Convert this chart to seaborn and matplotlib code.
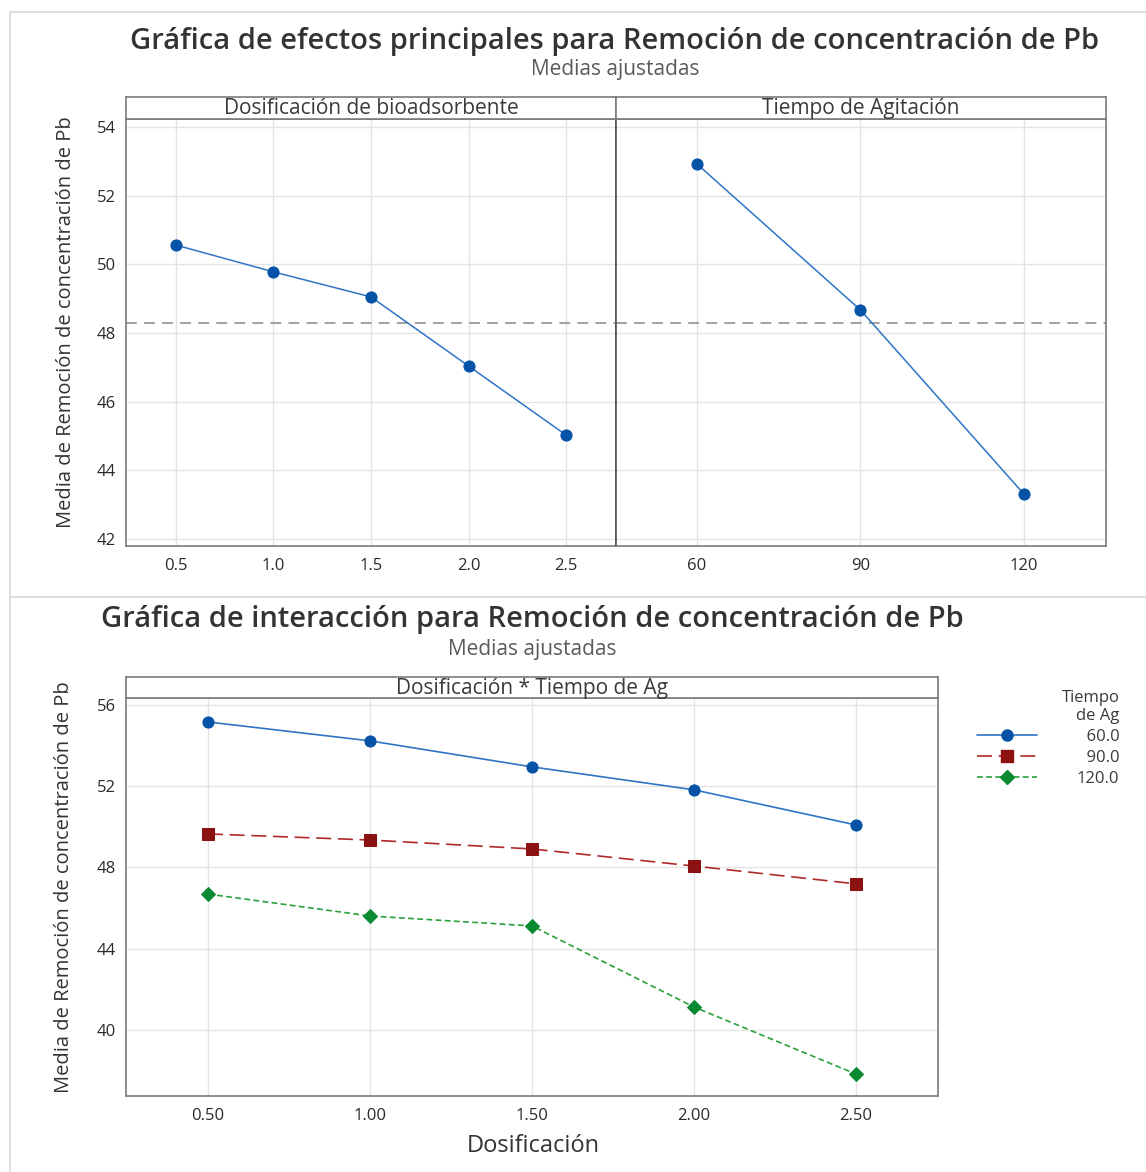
import matplotlib
matplotlib.use('Agg')
import matplotlib.pyplot as plt
import seaborn as sns
import pandas as pd
from matplotlib.lines import Line2D

# ---------------- data ----------------
dose_levels = [0.5, 1.0, 1.5, 2.0, 2.5]
dose_means = [50.56, 49.78, 49.05, 47.04, 45.03]
time_levels = [60, 90, 120]
time_means = [52.92, 48.67, 43.31]
grand_mean = 48.29

inter_dose = [0.5, 1.0, 1.5, 2.0, 2.5]
inter_60 = [55.16, 54.23, 52.95, 51.82, 50.09]
inter_90 = [49.65, 49.35, 48.91, 48.07, 47.19]
inter_120 = [46.69, 45.61, 45.12, 41.13, 37.83]
time_labels = ['\u200760.0', '\u200790.0', '120.0']

top_yticks = [42, 44, 46, 48, 50, 52, 54]
bot_yticks = [40, 44, 48, 52, 56]
dose_ticklabels = ['0.5', '1.0', '1.5', '2.0', '2.5']
time_ticklabels = ['60', '90', '120']
inter_ticklabels = ['0.50', '1.00', '1.50', '2.00', '2.50']

# ---------------- style ----------------
sns.set_theme(style='whitegrid')
plt.rcParams['font.family'] = ['Open Sans', 'DejaVu Sans']
plt.rcParams['axes.edgecolor'] = '#7a7a7a'
plt.rcParams['grid.color'] = '#e4e4e4'
plt.rcParams['grid.linewidth'] = 1.0

W, H = 1146, 1172
fig = plt.figure(figsize=(W / 100, H / 100), dpi=100)
fig.patch.set_facecolor('white')


def rect(x0, y0, x1, y1):
    return [x0 / W, 1 - y1 / H, (x1 - x0) / W, (y1 - y0) / H]


TXT = '#333333'
SUB = '#5a5a5a'
SPINE = '#7a7a7a'
BLUE_L = '#2f74c6'
BLUE_M = '#0552a6'
RED_L = '#b02a2a'
RED_M = '#8c1111'
GREEN_L = '#2aa13e'
GREEN_M = '#0b8a32'


def strip(r, label):
    s = fig.add_axes(r)
    s.set_xticks([])
    s.set_yticks([])
    s.set_facecolor('white')
    s.grid(False)
    for sp in s.spines.values():
        sp.set_color(SPINE)
        sp.set_linewidth(1.2)
    s.text(0.5, 0.47, label, ha='center', va='center', fontsize=15,
           color='#3a3a3a', transform=s.transAxes)
    return s


def style_ax(ax):
    for sp in ax.spines.values():
        sp.set_color(SPINE)
        sp.set_linewidth(1.2)
    ax.tick_params(axis='both', colors=SPINE, labelcolor='#2a2a2a',
                   labelsize=12, length=4, width=1, direction='out')
    ax.tick_params(axis='x', pad=5)
    ax.set_xlabel('')
    ax.set_ylabel('')


# ---------------- top: main effects ----------------
ax1 = fig.add_axes(rect(126, 119, 616, 546))
ax2 = fig.add_axes(rect(616, 119, 1106, 546), sharey=ax1)

df_dose = pd.DataFrame({'x': dose_levels, 'y': dose_means})
df_time = pd.DataFrame({'x': time_levels, 'y': time_means})

for ax in (ax1, ax2):
    ax.axhline(grand_mean, color='#9a9a9a', lw=1.3, ls=(0, (6, 4)), zorder=1)

sns.lineplot(data=df_dose, x='x', y='y', ax=ax1, color=BLUE_L, lw=1.1,
             marker='o', markersize=8, markerfacecolor=BLUE_M,
             markeredgecolor=BLUE_M, zorder=3)
sns.lineplot(data=df_time, x='x', y='y', ax=ax2, color=BLUE_L, lw=1.1,
             marker='o', markersize=8, markerfacecolor=BLUE_M,
             markeredgecolor=BLUE_M, zorder=3)

ax1.set_xlim(0.244, 2.756)
ax1.set_xticks(dose_levels)
ax1.set_xticklabels(dose_ticklabels)
ax2.set_xlim(45.14, 135.05)
ax2.set_xticks(time_levels)
ax2.set_xticklabels(time_ticklabels)
ax1.set_ylim(41.8, 54.23)
ax1.set_yticks(top_yticks)
for ax in (ax1, ax2):
    style_ax(ax)
ax2.tick_params(axis='y', left=False, labelleft=False)
ax1.spines['right'].set_color('#555555')
ax2.spines['left'].set_color('#555555')

strip(rect(126, 97, 616, 119), 'Dosificación de bioadsorbente')
strip(rect(616, 97, 1106, 119), 'Tiempo de Agitación')

fig.text(615 / W, 1 - 41 / H,
         'Gráfica de efectos principales para Remoción de concentración de Pb',
         ha='center', va='center', fontsize=21, fontweight='semibold', color=TXT)
fig.text(615 / W, 1 - 70 / H, 'Medias ajustadas', ha='center', va='center',
         fontsize=15, color=SUB)
fig.text(66 / W, 1 - 322 / H, 'Media de Remoción de concentración de Pb',
         ha='center', va='center', rotation=90, fontsize=14.5, color=TXT)

# ---------------- bottom: interaction ----------------
ax3 = fig.add_axes(rect(126, 698, 938, 1096))
series = [
    (inter_60, time_labels[0], BLUE_L, BLUE_M, 'o', 8, '-'),
    (inter_90, time_labels[1], RED_L, RED_M, 's', 8, (0, (9, 4))),
    (inter_120, time_labels[2], GREEN_L, GREEN_M, 'D', 7.5, (0, (3.5, 2))),
]
handles = []
for vals, lab, lc, mc, mk, ms, ls in series:
    d = pd.DataFrame({'x': inter_dose, 'y': vals})
    sns.lineplot(data=d, x='x', y='y', ax=ax3, color=lc, lw=1.2, ls=ls,
                 marker=mk, markersize=ms, markerfacecolor=mc,
                 markeredgecolor=mc, zorder=3)
    handles.append(Line2D([], [], color=lc, lw=1.2, ls=ls, marker=mk,
                          markersize=ms, markerfacecolor=mc,
                          markeredgecolor=mc, label=lab))

ax3.set_xlim(0.247, 2.753)
ax3.set_xticks(inter_dose)
ax3.set_xticklabels(inter_ticklabels)
ax3.set_ylim(36.75, 56.34)
ax3.set_yticks(bot_yticks)
style_ax(ax3)

strip(rect(126, 677, 938, 698), 'Dosificación * Tiempo de Ag')

fig.text(532 / W, 1 - 620 / H,
         'Gráfica de interacción para Remoción de concentración de Pb',
         ha='center', va='center', fontsize=21, fontweight='semibold', color=TXT)
fig.text(532 / W, 1 - 649 / H, 'Medias ajustadas', ha='center', va='center',
         fontsize=15, color=SUB)
fig.text(64 / W, 1 - 887 / H, 'Media de Remoción de concentración de Pb',
         ha='center', va='center', rotation=90, fontsize=14.5, color=TXT)
fig.text(533 / W, 1 - 1146 / H, 'Dosificación', ha='center', va='center',
         fontsize=17, color=TXT)

leg = fig.legend(handles=handles, title='Tiempo\nde Ag',
                 loc='upper right', bbox_to_anchor=(1131 / W, 1 - 678 / H),
                 frameon=False, fontsize=12, title_fontsize=12,
                 handlelength=3.6, handletextpad=2.4, labelspacing=0.3,
                 alignment='right', borderpad=0.2)
for t in leg.get_texts():
    t.set_color('#3a3a3a')
leg.get_title().set_color('#3a3a3a')
leg.get_title().set_multialignment('right')

# screenshot frame lines
fig.add_artist(Line2D([10 / W, 1], [1 - 12 / H, 1 - 12 / H], color='#d8d8d8', lw=1.2))
fig.add_artist(Line2D([10 / W, 10 / W], [1 - 12 / H, 0], color='#d8d8d8', lw=1.2))
fig.add_artist(Line2D([10 / W, 1], [1 - 597 / H, 1 - 597 / H], color='#d8d8d8', lw=1.2))

fig.savefig('out.png', dpi=100, facecolor='white')
